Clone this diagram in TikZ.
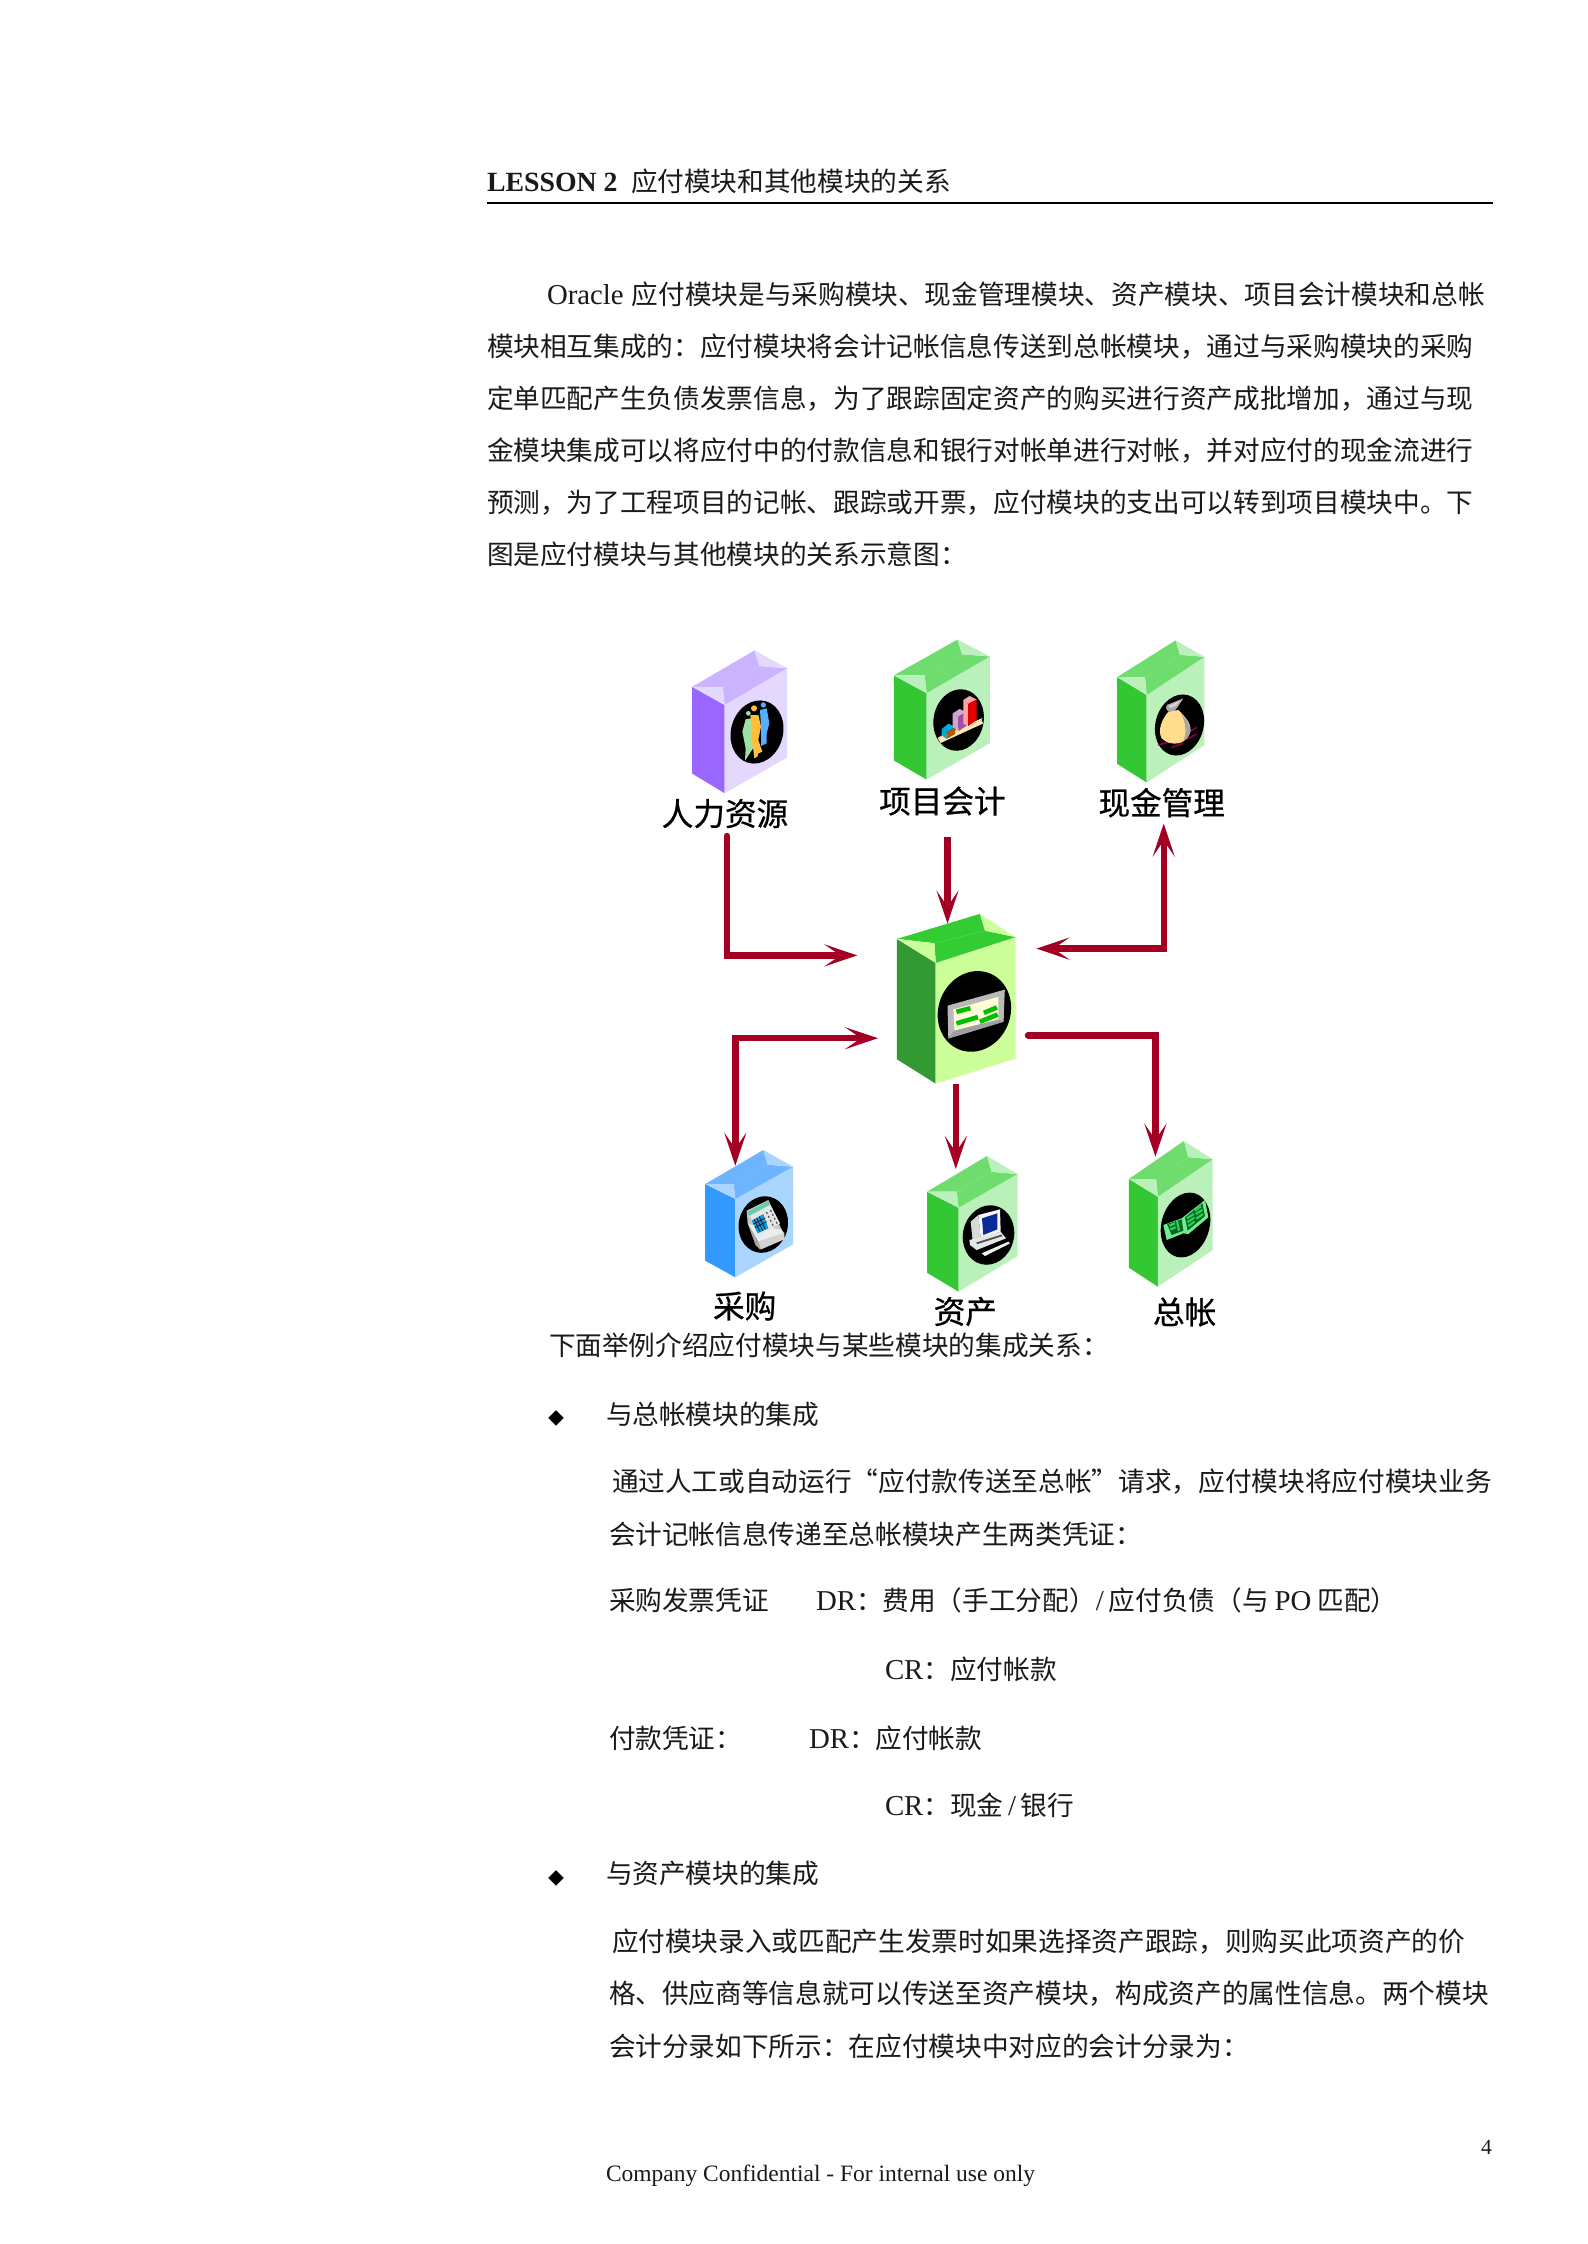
\documentclass[tikz,border=0pt]{standalone}
\usepackage{fontspec}
\usetikzlibrary{arrows.meta}
\setmainfont{Noto Sans CJK SC}
\newfontfamily\lat[Scale=1.08]{Liberation Serif}
\newfontfamily\latb{Liberation Serif Bold}
\newfontfamily\lblfont[FakeBold=0.7]{Noto Sans CJK SC}
\definecolor{flowred}{HTML}{A30024}
\definecolor{inktext}{HTML}{1A1A1A}
\definecolor{gLeft}{RGB}{51,200,51}
\definecolor{gRight}{RGB}{186,240,186}
\definecolor{gBevel}{RGB}{110,221,110}
\definecolor{hrGreen}{RGB}{160,224,160}
\definecolor{hrBlue}{RGB}{85,175,255}
\definecolor{hrOrange}{RGB}{255,190,60}
\definecolor{bagY}{RGB}{255,221,140}
\definecolor{poTeal}{RGB}{102,204,170}
\definecolor{poBlue}{RGB}{17,153,221}
\definecolor{faBlue}{RGB}{10,42,153}
\definecolor{glLight}{RGB}{110,238,140}
\definecolor{glDark}{RGB}{12,100,40}
\definecolor{glMid}{RGB}{40,210,80}
\tikzset{
  txt/.style={anchor=base west,inner sep=0pt,outer sep=0pt,text=inktext,font=\fontsize{13.33}{13.33}\selectfont},
  modlabel/.style={anchor=center,inner sep=0pt,text=black,font=\fontsize{15.8}{15.8}\selectfont\lblfont},
  bulletmark/.style={anchor=center,inner sep=0pt,text=black,font=\fontsize{8}{8}\selectfont},
  flow/.style={draw=flowred,line width=3.2pt},
  tipA/.tip={Stealth[length=16.5pt,width=11pt,inset=8pt]},
  head/.style={-tipA},
  heads/.style={tipA-tipA},
  badge/.style={fill=black},
  icon/.style={x=0.16667pt,y=-0.16667pt}
}
\newcommand\tl[4]{\node[txt] (#1) at (#2,#3) {#4};}
\newcommand\modgeom[9]{%
  \def\mname{#1}\def\xL{#2}\def\xB{#3}\def\xR{#4}\def\xF{#5}%
  \def\yA{#6}\def\yB{#7}\def\yC{#8}\def\yD{#9}%
  \pgfmathsetmacro\xE{\xL+0.94*(\xF-\xL)}\pgfmathsetmacro\yE{\yA}%
  \pgfmathsetmacro\xG{\xB+0.15*(\xR-\xB)}\pgfmathsetmacro\yG{\yB+0.88*(\yC-\yB)}%
}
\newcommand\modfill[7]{%
  \fill[#4] (\xL,\yA) -- (\xF,\yD) -- (\xF,#2) -- (\xL,#1) -- cycle;
  \fill[#5] (\xF,\yD) -- (\xR,\yC) -- (\xR,#3) -- (\xF,#2) -- cycle;
  \fill[#6] (\xL,\yA) -- (\xB,\yB) -- (\xG,\yG) -- (\xE,\yE) -- cycle;
  \fill[#6] (\xE,\yE) -- (\xG,\yG) -- (\xR,\yC) -- (\xF,\yD) -- cycle;
  \fill[#7] (\xB,\yB) -- (\xR,\yC) -- (\xG,\yG) -- cycle;
  \fill[#7] (\xL,\yA) -- (\xE,\yE) -- (\xF,\yD) -- cycle;
  \pgfmathsetmacro\mcx{(\xL+\xR)/2}\pgfmathsetmacro\mcy{(\yB+#2)/2}%
  \pgfmathsetmacro\mwd{(\xR-\xL)*0.5}\pgfmathsetmacro\mht{(\yB-#2)*0.5}%
  \node[inner sep=0pt,minimum width=\mwd pt,minimum height=\mht pt] (\mname) at (\mcx,\mcy) {};
}
\newcommand\badgeat[5]{\fill[badge] (#1,#2) ellipse[x radius=#3,y radius=#4,rotate=#5];}
\begin{document}
\begin{tikzpicture}[x=0.5pt,y=0.5pt]
\useasboundingbox (0,0) rectangle (1587,-2244);
\fill[white] (0,0) rectangle (1587,-2244);

% header
\node[txt,font=\fontsize{13.9}{13.9}\selectfont\latb] (hlat) at (487,-191) {LESSON 2};
\tl{hcjk}{631}{-191}{应付模块和其他模块的关系}
\draw[line width=1.1pt] (487,-203) -- (1493,-203);

% intro
\tl{p1}{547}{-304}{{\lat Oracle}\hspace{4pt}应付模块是与采购模块、现金管理模块、资产模块、项目会计模块和总帐}
\tl{p2}{487}{-356}{模块相互集成的：应付模块将会计记帐信息传送到总帐模块，通过与采购模块的采购}
\tl{p3}{487}{-408}{定单匹配产生负债发票信息，为了跟踪固定资产的购买进行资产成批增加，通过与现}
\tl{p4}{487}{-460}{金模块集成可以将应付中的付款信息和银行对帐单进行对帐，并对应付的现金流进行}
\tl{p5}{487}{-512}{预测，为了工程项目的记帐、跟踪或开票，应付模块的支出可以转到项目模块中。下}
\tl{p6}{487}{-564}{图是应付模块与其他模块的关系示意图：}

% modules
\modgeom{mHR}{692.2}{754.6}{787}{724.6}{-686.8}{-650.4}{-668.2}{-705}
\modfill{-773.6}{-793.2}{-757.5}{fill={rgb,255:red,153;green,102;blue,255}}{fill={rgb,255:red,228;green,216;blue,255}}{fill={rgb,255:red,204;green,179;blue,255}}{fill={rgb,255:red,228;green,216;blue,255}}
\modgeom{mPA}{893.8}{957.4}{989.8}{926.6}{-675.4}{-639.6}{-656.4}{-693.2}
\modfill{-760.4}{-779.6}{-743.2}{fill=gLeft}{fill=gRight}{fill=gBevel}{fill=gRight}
\modgeom{mCM}{1117.1}{1175.6}{1204.4}{1146.7}{-677.1}{-640.4}{-656.8}{-695}
\modfill{-763.9}{-782.5}{-745}{fill=gLeft}{fill=gRight}{fill=gBevel}{fill=gRight}
\modgeom{mAP}{896.9}{979.9}{1015.5}{935.7}{-938.9}{-913.9}{-937.1}{-962.9}
\def\xE{934.5}\def\yE{-943.2}\def\xG{985}\def\yG{-930.7}
\modfill{-1059.3}{-1083.6}{-1058.6}{fill={rgb,255:red,51;green,153;blue,51}}{fill={rgb,255:red,204;green,255;blue,153}}{fill={rgb,255:red,51;green,204;blue,51}}{fill={rgb,255:red,204;green,255;blue,153}}
\modgeom{mPO}{705.2}{763.3}{793}{735.3}{-1184}{-1150}{-1166.7}{-1199}
\modfill{-1260.7}{-1277.3}{-1244.3}{fill={rgb,255:red,51;green,153;blue,255}}{fill={rgb,255:red,170;green,213;blue,255}}{fill={rgb,255:red,110;green,181;blue,255}}{fill={rgb,255:red,170;green,213;blue,255}}
\modgeom{mFA}{927}{987}{1017.5}{958.6}{-1191.7}{-1156}{-1174}{-1207.7}
\modfill{-1272.7}{-1291.7}{-1256}{fill=gLeft}{fill=gRight}{fill=gBevel}{fill=gRight}
\modgeom{mGL}{1128.9}{1183.9}{1212.7}{1157.8}{-1179}{-1141}{-1159.3}{-1196.7}
\modfill{-1267.7}{-1286.7}{-1250}{fill=gLeft}{fill=gRight}{fill=gBevel}{fill=gRight}

% badges
\badgeat{757}{-732}{26}{32}{-16}
\badgeat{958.6}{-720}{25}{31}{-12}
\badgeat{1179.5}{-725}{24}{31}{-16}
\badgeat{974.4}{-1011.4}{36}{41}{-22}
\badgeat{763.3}{-1224.5}{24.5}{28.5}{-14}
\badgeat{988.5}{-1235}{25.5}{30}{-14}
\badgeat{1185.5}{-1225}{24}{33}{-16}

% HR icon
\begin{scope}[shift={(725,-690)},icon]
  \fill[hrGreen] (70,70) circle[radius=7];
  \fill[hrGreen] (62,88) -- (78,85) -- (82,110) -- (84,175) -- (60,212) -- (62,175) -- (52,125) -- cycle;
  \fill[hrBlue] (115,45) circle[radius=8];
  \fill[hrBlue] (105,60) -- (125,55) -- (133,100) -- (125,130) -- (125,160) -- (108,168) -- (108,110) -- cycle;
  \fill[hrOrange] (87,55) circle[radius=9];
  \fill[hrOrange] (76,75) -- (100,75) -- (108,110) -- (100,150) -- (112,185) -- (100,190) -- (97,200) -- (88,205) -- (85,180) -- (80,150) -- (80,110) -- cycle;
\end{scope}

% project icon
\begin{scope}[shift={(958.6,-720)}]
  \fill[yellow!30!orange!25!white] (-21,-18) -- (23,0) -- (24.5,-3.5) -- (-18,-23) -- cycle;
  \fill[yellow!30!orange!25!white] (-21,-18) -- (-18,-16) -- (24,2) -- (23,0) -- cycle;
  \fill[cyan!85!green] (-17,-9) -- (-10,-3.5) -- (-3.5,-7) -- (-12,-12.5) -- cycle;
  \fill[cyan!85!green] (-17,-9) -- (-12,-12.5) -- (-12,-19) -- (-17,-15) -- cycle;
  \fill[orange!70!black] (-12,-12.5) -- (-3.5,-7) -- (-3.5,-14) -- (-12,-19) -- cycle;
  \fill[violet!35!white] (-6,6.5) -- (1,11) -- (7.5,8) -- (0,3.5) -- cycle;
  \fill[violet!35!white] (-6,6.5) -- (0,3.5) -- (0,-11) -- (-6,-7) -- cycle;
  \fill[violet!70!white] (0,3.5) -- (7.5,8) -- (7.5,-6) -- (0,-11) -- cycle;
  \fill[red!35!white] (4.7,20) -- (11,24) -- (18,20.5) -- (9.5,16) -- cycle;
  \fill[red!35!white] (4.7,20) -- (9.5,16) -- (9.5,-6) -- (4.7,-3.5) -- cycle;
  \fill[red!90!black] (9.5,16) -- (18,20.5) -- (18,0) -- (9.5,-6) -- cycle;
\end{scope}

% cash icon
\begin{scope}[shift={(1150,-690)},icon]
  \draw[violet!70!red!80!black,line width=.9pt] (25,165) -- (60,155) (65,172) -- (100,160) (110,148) -- (140,132) (115,128) -- (140,112);
  \fill[bagY] (55,65) .. controls (35,90) and (22,120) .. (35,145) .. controls (55,165) and (90,165) .. (105,150) .. controls (125,135) and (125,110) .. (115,95) .. controls (105,80) and (95,70) .. (85,60) -- cycle;
  \fill[gray!70!white] (95,75) .. controls (115,90) and (125,115) .. (120,130) .. controls (115,140) and (108,148) .. (100,152) .. controls (110,130) and (108,100) .. (95,75) -- cycle;
  \fill[gray!70!white] (50,45) -- (100,25) -- (85,48) -- (75,62) -- (55,65) -- (48,55) -- cycle;
  \fill[gray!35!white] (55,48) -- (92,30) -- (78,48) -- (60,54) -- cycle;
\end{scope}

% AP icon
\begin{scope}[shift={(974.4,-1011.4)}]
  \fill[gray!55!white] (-26.9,5.7) -- (30.4,21.8) -- (29.2,-10.3) -- (-26.1,-27.1) -- cycle;
  \fill[gray!75!white] (-26,-27) -- (-20,-19) -- (24,-8) -- (29.2,-10.3) -- cycle;
  \fill[yellow!15!white] (-21,2) -- (24,14.6) -- (24,-8) -- (-20,-19) -- cycle;
  \draw[green!75!black,line width=2.3pt] (-18,-0.4) -- (-4,3.2) (-18,-12) -- (3.5,-5.7) (9.5,-1.4) -- (22.5,3.9) (5.5,-10.3) -- (23.3,-3.2);
\end{scope}

% PO icon
\begin{scope}[shift={(735,-1190)},icon]
  \fill[gray!45!white] (35,62) -- (100,30) -- (145,130) -- (148,145) -- (75,178) -- (62,165) -- (38,100) -- cycle;
  \fill[gray!15!white] (40,103) -- (138,118) -- (148,130) -- (70,155) -- cycle;
  \fill[gray!35!white] (70,155) -- (148,128) -- (148,148) -- (78,178) -- cycle;
  \fill[gray!70!white] (40,103) -- (70,155) -- (78,178) -- (62,165) -- cycle;
  \fill[gray!20!white] (40,65) -- (100,33) -- (135,100) -- (70,138) -- cycle;
  \fill[poTeal] (38,65) -- (100,33) -- (105,44) -- (42,78) -- cycle;
  \fill[poBlue] (50,92) -- (85,72) -- (100,115) -- (68,130) -- cycle;
  \draw[gray!20!black,line width=.35pt] (57,88) -- (75,125) (65,84) -- (83,122) (73,80) -- (91,118) (55,102) -- (91,84) (60,113) -- (95,95);
  \draw[gray!60!black,line width=.6pt,dash pattern=on 1pt off 1.2pt] (94,66) -- (115,108) (106,60) -- (127,102);
\end{scope}

% FA icon
\begin{scope}[shift={(960,-1200)},icon]
  \fill[gray!30!white] (32,65) -- (55,45) -- (62,112) -- (38,122) -- cycle;
  \fill[gray!8!white] (55,45) -- (120,28) -- (122,95) -- (62,115) -- cycle;
  \fill[faBlue] (66,55) -- (112,40) -- (112,88) -- (70,105) -- cycle;
  \fill[gray!20!white] (28,120) -- (122,95) -- (138,115) -- (50,150) -- (30,135) -- cycle;
  \draw[gray!60!black,line width=.9pt] (50,130) -- (126,106);
  \fill[gray!12!white] (65,160) -- (145,125) -- (150,130) -- (75,168) -- cycle;
\end{scope}

% GL icon
\begin{scope}[shift={(1155,-1190)},icon]
  \fill[glLight] (25,105) -- (80,85) -- (150,30) -- (160,82) -- (100,132) -- (85,130) -- (35,150) -- cycle;
  \fill[glDark] (36,102) -- (80,88) -- (85,122) -- (50,135) -- cycle;
  \fill[glDark] (90,82) -- (142,40) -- (150,78) -- (98,122) -- cycle;
  \draw[glMid,line width=1.1pt] (43,107) -- (60,100) (46,118) -- (62,112) (66,92) -- (72,122);
  \draw[glMid,line width=1.1pt] (96,85) -- (116,72) (97,97) -- (118,83) (100,108) -- (118,95) (120,62) -- (138,48) (122,72) -- (142,60) (124,86) -- (144,72);
\end{scope}

% labels
\node[modlabel] (lHR) at (725,-813.6) {人力资源};
\node[modlabel] (lPA) at (942.4,-801) {项目会计};
\node[modlabel] (lCM) at (1161.7,-802.6) {现金管理};
\node[modlabel] (lPO) at (744.7,-1306) {采购};
\node[modlabel] (lFA) at (965.3,-1311.5) {资产};
\node[modlabel] (lGL) at (1184.7,-1312) {总帐};

% connector ends
\coordinate (hrS) at (727,-836);
\coordinate (hrE) at (857.4,-955.4);
\coordinate (paS) at (947.5,-837);
\coordinate (paE) at (947.5,-923.6);
\coordinate (cmA) at (1036.4,-948.6);
\coordinate (cmB) at (1163.7,-823.6);
\coordinate (poA) at (878,-1038.2);
\coordinate (poB) at (735.3,-1165.7);
\coordinate (glS) at (1028,-1035.4);
\coordinate (glE) at (1155.4,-1156.7);
\coordinate (faS) at (955.8,-1083.5);
\coordinate (faE) at (955.8,-1169);

\draw[flow,head,line cap=round] (hrS) |- (hrE);
\draw[flow,head] (paS) -- (paE);
\draw[flow,heads] (cmA) -| (cmB);
\draw[flow,heads] (poA) -| (poB);
\draw[flow,head,line cap=round] (glS) -| (glE);
\draw[flow,head] (faS) -- (faE);

% lower text
\tl{q0}{549}{-1355.5}{下面举例介绍应付模块与某些模块的集成关系：}
\node[bulletmark] (b1) at (556,-1418) {◆};
\tl{q1}{606}{-1424}{与总帐模块的集成}
\tl{q2}{612}{-1491}{通过人工或自动运行“应付款传送至总帐”请求，应付模块将应付模块业务}
\tl{q3}{609}{-1544}{会计记帐信息传递至总帐模块产生两类凭证：}
\tl{q4}{609}{-1610.5}{采购发票凭证}
\tl{q5}{816}{-1610.5}{{\lat DR}：费用（手工分配）{\lat /\,}应付负债（与 {\lat PO} 匹配）}
\tl{q6}{885}{-1679.5}{{\lat CR}：应付帐款}
\tl{q7}{609}{-1748}{付款凭证：}
\tl{q8}{809}{-1748}{{\lat DR}：应付帐款}
\tl{q9}{885}{-1815.5}{{\lat CR}：现金{\lat\,/\,}银行}
\node[bulletmark] (b2) at (556,-1878) {◆};
\tl{q10}{606}{-1883.5}{与资产模块的集成}
\tl{q11}{612}{-1951.5}{应付模块录入或匹配产生发票时如果选择资产跟踪，则购买此项资产的价}
\tl{q12}{609}{-2003.5}{格、供应商等信息就可以传送至资产模块，构成资产的属性信息。两个模块}
\tl{q13}{609}{-2056.5}{会计分录如下所示：在应付模块中对应的会计分录为：}

% footer
\node[txt,font=\fontsize{10}{10}\selectfont\lat] (pg) at (1481,-2154) {4};
\node[txt,font=\fontsize{10.87}{10.87}\selectfont\lat] (ft) at (606,-2181) {Company Confidential - For internal use only};
\end{tikzpicture}
\end{document}
